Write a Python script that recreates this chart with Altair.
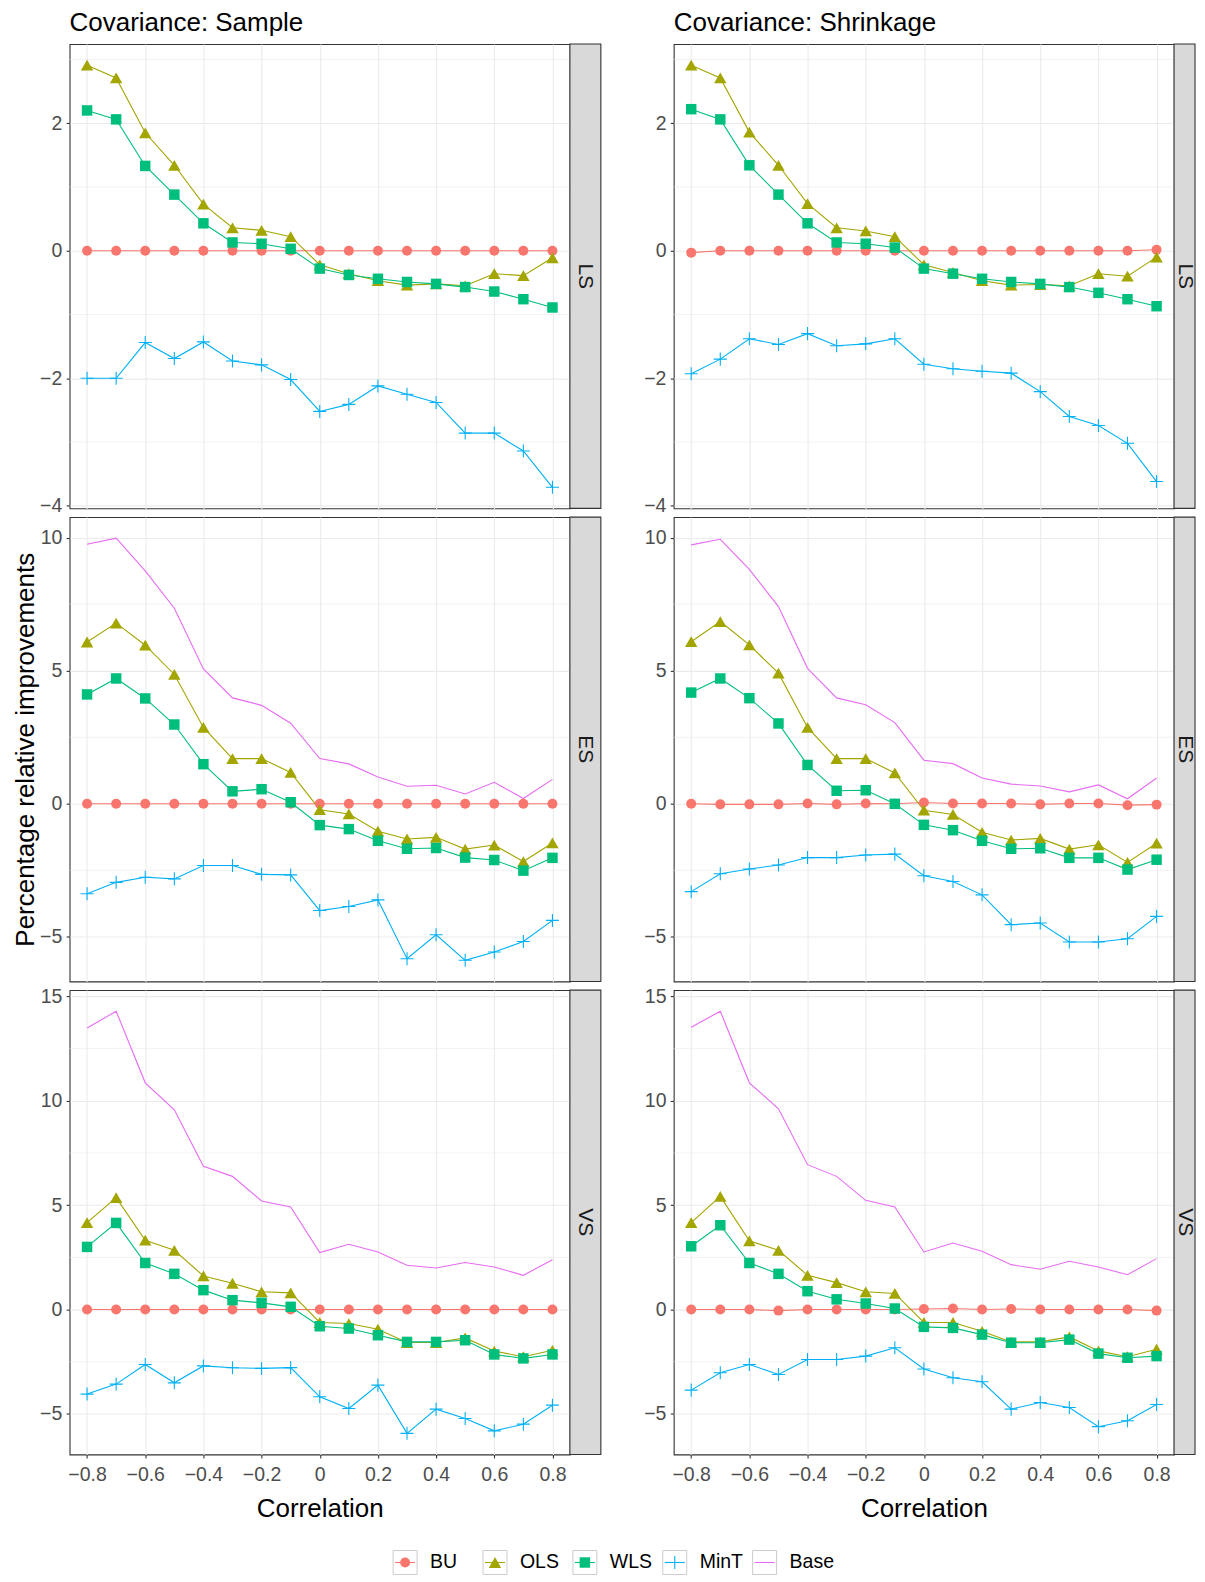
import altair as alt
import pandas as pd

FONT = "Liberation Sans"

corr = [-0.8, -0.7, -0.6, -0.5, -0.4, -0.3, -0.2, -0.1, 0.0, 0.1, 0.2, 0.3, 0.4, 0.5, 0.6, 0.7, 0.8]
methods = ["BU", "OLS", "WLS", "MinT", "Base"]
colors = ["#F8766D", "#A3A500", "#00BF7D", "#00B0F6", "#E76BF3"]
covariances = ["Sample", "Shrinkage"]
scores = ["LS", "ES", "VS"]

x_ticks = [-0.8, -0.6, -0.4, -0.2, 0.0, 0.2, 0.4, 0.6, 0.8]
y_ticks = {"LS": [-4, -2, 0, 2], "ES": [-5, 0, 5, 10], "VS": [-5, 0, 5, 10, 15]}
y_minor = {"LS": [-3, -1, 1, 3], "ES": [-2.5, 2.5, 7.5], "VS": [-2.5, 2.5, 7.5, 12.5]}

# ---- LS, covariance: Sample
ls_sample_bu = [0, 0, 0, 0, 0, 0, 0, 0, 0, 0, 0, 0, 0, 0, 0, 0, 0]
ls_sample_ols = [2.91, 2.71, 1.85, 1.34, 0.73, 0.36, 0.32, 0.22, -0.22, -0.36, -0.47, -0.54, -0.52, -0.55, -0.36, -0.39, -0.11]
ls_sample_wls = [2.20, 2.06, 1.33, 0.88, 0.43, 0.13, 0.11, 0.03, -0.28, -0.38, -0.44, -0.49, -0.52, -0.57, -0.64, -0.76, -0.89]
ls_sample_mint = [-2.00, -2.00, -1.44, -1.69, -1.43, -1.73, -1.79, -2.02, -2.52, -2.41, -2.12, -2.25, -2.38, -2.86, -2.86, -3.14, -3.71]

# ---- LS, covariance: Shrinkage
ls_shrink_bu = [-0.03, 0, 0, 0, 0, 0, 0, 0, 0, 0, 0, 0, 0, 0, 0, 0, 0.015]
ls_shrink_ols = [2.91, 2.71, 1.86, 1.34, 0.74, 0.36, 0.31, 0.22, -0.22, -0.34, -0.47, -0.54, -0.53, -0.55, -0.36, -0.40, -0.10]
ls_shrink_wls = [2.22, 2.06, 1.34, 0.88, 0.43, 0.13, 0.11, 0.05, -0.28, -0.36, -0.44, -0.49, -0.52, -0.57, -0.66, -0.76, -0.87]
ls_shrink_mint = [-1.93, -1.70, -1.38, -1.47, -1.30, -1.49, -1.46, -1.38, -1.78, -1.85, -1.89, -1.92, -2.21, -2.60, -2.74, -3.02, -3.62]

# ---- ES, covariance: Sample
es_sample_bu = [0, 0, 0, 0, 0, 0, 0, 0, 0, 0, 0, 0, 0, 0, 0, 0, 0]
es_sample_ols = [6.08, 6.79, 5.96, 4.86, 2.87, 1.70, 1.70, 1.18, -0.22, -0.38, -1.03, -1.32, -1.26, -1.70, -1.55, -2.17, -1.47]
es_sample_wls = [4.11, 4.71, 3.96, 2.98, 1.49, 0.47, 0.55, 0.06, -0.80, -0.95, -1.39, -1.69, -1.66, -2.02, -2.11, -2.51, -2.03]
es_sample_mint = [-3.38, -2.95, -2.76, -2.82, -2.32, -2.32, -2.65, -2.67, -4.01, -3.86, -3.61, -5.82, -4.92, -5.88, -5.57, -5.17, -4.38]
es_sample_base = [9.75, 9.98, 8.75, 7.35, 5.07, 3.98, 3.70, 3.03, 1.70, 1.50, 1.01, 0.66, 0.70, 0.37, 0.81, 0.20, 0.92]

# ---- ES, covariance: Shrinkage
es_shrink_bu = [0.00, -0.02, -0.02, -0.02, 0.01, -0.02, 0.01, 0.00, 0.05, 0.01, 0.01, 0.01, -0.02, 0.01, 0.01, -0.05, -0.03]
es_shrink_ols = [6.09, 6.85, 5.97, 4.91, 2.87, 1.70, 1.70, 1.16, -0.24, -0.40, -1.07, -1.36, -1.30, -1.70, -1.54, -2.20, -1.48]
es_shrink_wls = [4.18, 4.71, 3.97, 3.02, 1.46, 0.49, 0.51, 0.00, -0.79, -0.99, -1.39, -1.69, -1.67, -2.03, -2.03, -2.47, -2.10]
es_shrink_mint = [-3.30, -2.63, -2.45, -2.30, -2.02, -2.02, -1.92, -1.89, -2.70, -2.92, -3.42, -4.54, -4.48, -5.19, -5.19, -5.07, -4.23]
es_shrink_base = [9.73, 9.94, 8.81, 7.41, 5.09, 3.98, 3.72, 3.05, 1.64, 1.51, 0.97, 0.74, 0.67, 0.45, 0.71, 0.19, 0.97]

# ---- VS, covariance: Sample
vs_sample_bu = [0, 0, 0, 0, 0, 0, 0, 0, 0, 0, 0, 0, 0, 0, 0, 0, 0]
vs_sample_ols = [4.16, 5.36, 3.32, 2.84, 1.61, 1.26, 0.85, 0.80, -0.62, -0.67, -0.94, -1.58, -1.58, -1.36, -1.99, -2.26, -1.95]
vs_sample_wls = [3.00, 4.15, 2.23, 1.71, 0.93, 0.45, 0.32, 0.13, -0.80, -0.91, -1.23, -1.55, -1.55, -1.47, -2.15, -2.34, -2.15]
vs_sample_mint = [-4.05, -3.57, -2.63, -3.51, -2.70, -2.79, -2.82, -2.78, -4.18, -4.74, -3.62, -5.93, -4.77, -5.22, -5.81, -5.49, -4.58]
vs_sample_base = [13.49, 14.29, 10.86, 9.57, 6.86, 6.38, 5.20, 4.91, 2.73, 3.13, 2.76, 2.12, 1.99, 2.25, 2.04, 1.64, 2.39]

# ---- VS, covariance: Shrinkage
vs_shrink_bu = [0, 0, 0, -0.05, 0, 0, 0, 0, 0.03, 0.05, 0, 0.03, 0, 0, 0, 0, -0.05]
vs_shrink_ols = [4.16, 5.42, 3.29, 2.84, 1.64, 1.29, 0.85, 0.77, -0.62, -0.62, -1.04, -1.55, -1.55, -1.31, -1.98, -2.26, -1.90]
vs_shrink_wls = [3.03, 4.04, 2.23, 1.71, 0.88, 0.49, 0.29, 0.05, -0.83, -0.88, -1.20, -1.59, -1.59, -1.44, -2.11, -2.31, -2.23]
vs_shrink_mint = [-3.86, -3.03, -2.63, -3.11, -2.39, -2.39, -2.23, -1.83, -2.85, -3.27, -3.46, -4.77, -4.45, -4.69, -5.61, -5.33, -4.55]
vs_shrink_base = [13.52, 14.29, 10.86, 9.62, 6.94, 6.38, 5.23, 4.91, 2.76, 3.19, 2.79, 2.15, 1.93, 2.31, 2.04, 1.67, 2.44]

series = {
    ("Sample", "LS"): {"BU": ls_sample_bu, "OLS": ls_sample_ols, "WLS": ls_sample_wls, "MinT": ls_sample_mint},
    ("Shrinkage", "LS"): {"BU": ls_shrink_bu, "OLS": ls_shrink_ols, "WLS": ls_shrink_wls, "MinT": ls_shrink_mint},
    ("Sample", "ES"): {"BU": es_sample_bu, "OLS": es_sample_ols, "WLS": es_sample_wls, "MinT": es_sample_mint, "Base": es_sample_base},
    ("Shrinkage", "ES"): {"BU": es_shrink_bu, "OLS": es_shrink_ols, "WLS": es_shrink_wls, "MinT": es_shrink_mint, "Base": es_shrink_base},
    ("Sample", "VS"): {"BU": vs_sample_bu, "OLS": vs_sample_ols, "WLS": vs_sample_wls, "MinT": vs_sample_mint, "Base": vs_sample_base},
    ("Shrinkage", "VS"): {"BU": vs_shrink_bu, "OLS": vs_shrink_ols, "WLS": vs_shrink_wls, "MinT": vs_shrink_mint, "Base": vs_shrink_base},
}

rows = []
for (cov, score), d in series.items():
    for m, vals in d.items():
        for c, v in zip(corr, vals):
            rows.append({"cov": cov, "score": score, "method": m, "corr": c, "value": v})
df = pd.DataFrame(rows)

# y ranges: data range of the row (both columns) expanded by 5 %
y_domains = {}
for score in scores:
    sub = df[df.score == score]["value"]
    lo, hi = sub.min(), sub.max()
    pad = 0.05 * (hi - lo)
    y_domains[score] = [lo - pad, hi + pad]

W, H = 501, 465
STRIP_W = {"Sample": 31, "Shrinkage": 21}
PLUS = "M-1,0L1,0M0,-1L0,1"
TICK_FS = 19.5
TITLE_FS = 26

color_enc = alt.Color("method:N", scale=alt.Scale(domain=methods, range=colors), legend=None)


def point_layers(src, x_enc, y_enc):
    out = []
    specs = [("BU", "circle", 100), ("OLS", "triangle-up", 155), ("WLS", "square", 110)]
    for m, shape, size in specs:
        out.append(
            src.transform_filter(alt.datum.method == m)
            .mark_point(shape=shape, filled=True, size=size, opacity=1)
            .encode(x=x_enc, y=y_enc, color=color_enc)
        )
    out.append(
        src.transform_filter(alt.datum.method == "MinT")
        .mark_point(shape=PLUS, filled=False, size=170, strokeWidth=1.1, opacity=1)
        .encode(x=x_enc, y=y_enc, color=color_enc)
    )
    return out


def panel(cov, score, row_idx, col_idx):
    d = df[(df["cov"] == cov) & (df["score"] == score)]
    bottom = row_idx == len(scores) - 1
    x_axis = alt.Axis(
        values=x_ticks, format=".1~f", grid=True, domain=False,
        ticks=bottom, labels=bottom, title="Correlation" if bottom else None,
        titlePadding=12, labelPadding=7.5,
    )
    x_enc = alt.X("corr:Q", scale=alt.Scale(domain=[-0.86, 0.86], nice=False, zero=False), axis=x_axis)
    y_title = "Percentage relative improvements" if (col_idx == 0 and score == "ES") else None
    y_axis = alt.Axis(values=y_ticks[score], grid=True, domain=False, title=y_title,
                      titlePadding=1.5, labelPadding=4.3)
    y_enc = alt.Y("value:Q", scale=alt.Scale(domain=y_domains[score], nice=False, zero=False), axis=y_axis)

    minor = alt.Chart(pd.DataFrame({"value": y_minor[score]})).mark_rule(
        color="#EBEBEB", strokeWidth=0.6
    ).encode(y=y_enc)

    src = alt.Chart(d)
    lines = src.mark_line(strokeWidth=1.1).encode(x=x_enc, y=y_enc, color=color_enc, detail="method:N")

    sw = STRIP_W[cov]
    strip_df = pd.DataFrame({"label": [score]})
    strip_rect = alt.Chart(strip_df).mark_rect(
        fill="#D9D9D9", stroke="#333333", strokeWidth=1.1
    ).encode(x=alt.value(W), x2=alt.value(W + sw), y=alt.value(0), y2=alt.value(H))
    strip_text = alt.Chart(strip_df).mark_text(
        angle=90, fontSize=21, font=FONT, color="#1A1A1A", baseline="middle", align="center"
    ).encode(x=alt.value(W + sw / 2), y=alt.value(H / 2), text="label:N")

    layers = [minor, lines] + point_layers(src, x_enc, y_enc) + [strip_rect, strip_text]
    props = dict(width=W, height=H)
    if row_idx == 0:
        props["title"] = alt.TitleParams(
            "Covariance: " + cov, anchor="start", frame="group", fontSize=TITLE_FS, font=FONT,
            fontWeight="normal", color="#000000", offset=7.2,
        )
    return alt.layer(*layers).properties(**props)


cells = []
for ri, s in enumerate(scores):
    for ci, cov in enumerate(covariances):
        cells.append(panel(cov, s, ri, ci))

# ---- legend (drawn as its own small chart, in the row below the panels)
leg = pd.DataFrame({"method": methods})
lx = alt.X("method:N", scale=alt.Scale(type="point", domain=methods, range=[336, 696], padding=0), axis=None)
LEG_Y = 99.5
LH = 111.5
ly = alt.value(LEG_Y)
leg_src = alt.Chart(leg)
leg_box = leg_src.mark_square(size=24 * 24, fill="white", stroke="#CCCCCC", strokeWidth=1, opacity=1).encode(x=lx, y=ly)
leg_line = leg_src.mark_point(shape="stroke", filled=False, size=400, strokeWidth=1.1, opacity=1).encode(
    x=lx, y=ly, color=color_enc)
leg_pts = point_layers(leg_src, lx, ly)
leg_txt = leg_src.mark_text(align="left", baseline="middle", dx=25, fontSize=TICK_FS, font=FONT, color="#000000").encode(
    x=lx, y=ly, text="method:N")
legend_chart = alt.layer(leg_box, leg_line, *leg_pts, leg_txt).properties(
    width=W, height=LH, view=alt.ViewBackground(stroke="transparent"))
cells.append(legend_chart)

chart = (
    alt.concat(*cells, columns=2, spacing={"row": 8.7, "column": 104}, bounds="flush", align="each")
    .resolve_scale(x="independent", y="independent")
    .properties(padding={"left": 2.7, "top": 0, "right": 0, "bottom": 0})
    .configure_view(stroke="#333333", strokeWidth=1.1)
    .configure_axis(
        labelFont=FONT, labelFontSize=TICK_FS, labelColor="#4D4D4D",
        tickColor="#333333", tickSize=3.5, tickWidth=1.1,
        gridColor="#EBEBEB", gridWidth=1.1,
        titleFont=FONT, titleFontSize=TITLE_FS, titleColor="#000000", titleFontWeight="normal",
    )
)

chart.save("out.html", embed_options={"renderer": "svg", "actions": False})
